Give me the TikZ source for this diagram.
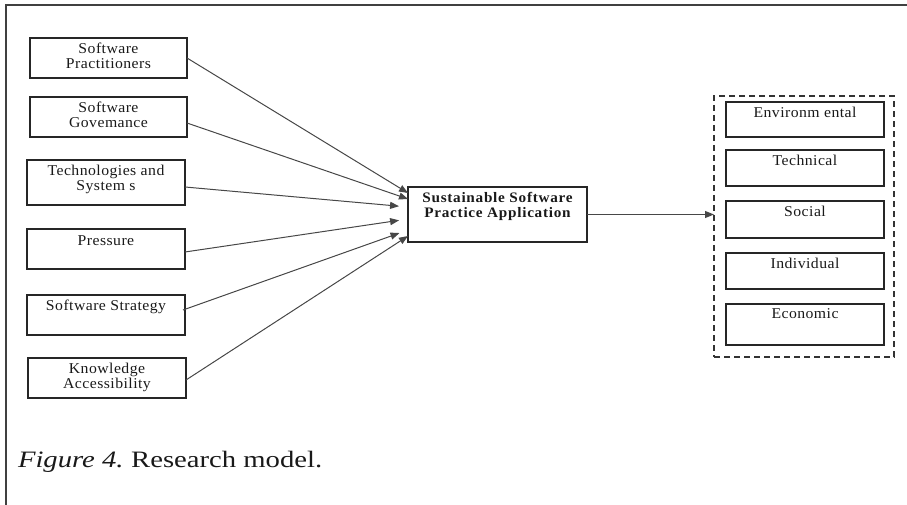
\documentclass[tikz,border=0pt]{standalone}
\usepackage{fontspec}
\setmainfont{Liberation Serif}
\newfontfamily\boxfont[FakeStretch=1.05,LetterSpace=3]{Liberation Serif}
\newfontfamily\headfont[FakeStretch=1.05,LetterSpace=5]{Liberation Serif}
\newfontfamily\capfont[FakeStretch=1.22]{Liberation Serif}
\usetikzlibrary{arrows.meta}
\begin{document}
\begin{tikzpicture}[x=1pt,y=-1pt,
  every node/.style={inner sep=0pt, outer sep=0pt},
  boxed/.style={draw=black!85, line width=1.1pt, rectangle},
  txt/.style={anchor=north, align=center, inner sep=0pt, yshift=-5pt,
    font=\boxfont\fontsize{15}{15}\selectfont, text=black!90},
  btxt/.style={anchor=north, align=center, inner sep=0pt, yshift=-5pt,
    font=\headfont\fontsize{14.5}{15}\selectfont\bfseries, text=black!90},
  link/.style={draw=black!72, line width=1pt,
    -{Triangle[length=9pt,width=7pt]}},
  frame/.style={draw=black!75, line width=1.6pt}
]
\useasboundingbox (0,0) rectangle (907,505);

% page frame (top and left rules)
\draw[frame] (907,5) -- (6,5) -- (6,505);

% factor boxes
\node[boxed, minimum width=157pt, minimum height=40pt,
  label={[txt]north:Software\\Practitioners}] (p1) at (108.5,58) {};
\node[boxed, minimum width=157pt, minimum height=40pt,
  label={[txt]north:Software\\Govemance}] (p2) at (108.5,117) {};
\node[boxed, minimum width=158pt, minimum height=45pt,
  label={[txt]north:Technologies and\\System s}] (p3) at (106,182.5) {};
\node[boxed, minimum width=158pt, minimum height=40pt,
  label={[txt, yshift=-2pt]north:Pressure}] (p4) at (106,249) {};
\node[boxed, minimum width=158pt, minimum height=40pt,
  label={[txt]north:Software Strategy}] (p5) at (106,315) {};
\node[boxed, minimum width=158pt, minimum height=40pt,
  label={[txt]north:Knowledge\\Accessibility}] (p6) at (107,378) {};

% central box
\node[boxed, minimum width=179pt, minimum height=55pt,
  label={[btxt]north:Sustainable Software\\Practice Application}] (c) at (497.5,214.5) {};

% dimension group
\node[draw=black!80, line width=1.1pt, dash pattern=on 6pt off 4pt,
  minimum width=180pt, minimum height=261pt] (grp) at (804,226.5) {};
\node[boxed, minimum width=158pt, minimum height=35pt,
  label={[txt]north:Environm ental}] (r1) at (805,119.5) {};
\node[boxed, minimum width=158pt, minimum height=36pt,
  label={[txt]north:Technical}] (r2) at (805,168) {};
\node[boxed, minimum width=158pt, minimum height=37pt,
  label={[txt]north:Social}] (r3) at (805,219.5) {};
\node[boxed, minimum width=158pt, minimum height=36pt,
  label={[txt]north:Individual}] (r4) at (805,271) {};
\node[boxed, minimum width=158pt, minimum height=41pt,
  label={[txt]north:Economic}] (r5) at (805,324.5) {};

% connectors
\draw[link] (p1.east) -- ([yshift=21.5pt]c.west);
\draw[link] ([yshift=-6pt]p2.east) -- ([yshift=15.5pt]c.west);
\draw[link, shorten >=9pt] ([yshift=-4.5pt]p3.east) -- ([yshift=7.5pt]c.west);
\draw[link, shorten >=9pt] ([yshift=-3pt]p4.east) -- ([yshift=-4.5pt]c.west);
\draw[link, shorten >=9pt] ([xshift=-2pt,yshift=5pt]p5.east) -- ([yshift=-15.5pt]c.west);
\draw[link] ([yshift=-2pt]p6.east) -- ([yshift=-21.5pt]c.west);
\draw[link] (c.east) -- (grp.west |- c.east);

% caption
\node[anchor=base west, font=\capfont\fontsize{23.5}{28}\selectfont, text=black!90] (cap) at (18,467)
  {\textit{Figure 4.}\hspace{-2pt} Research model.};
\end{tikzpicture}
\end{document}
